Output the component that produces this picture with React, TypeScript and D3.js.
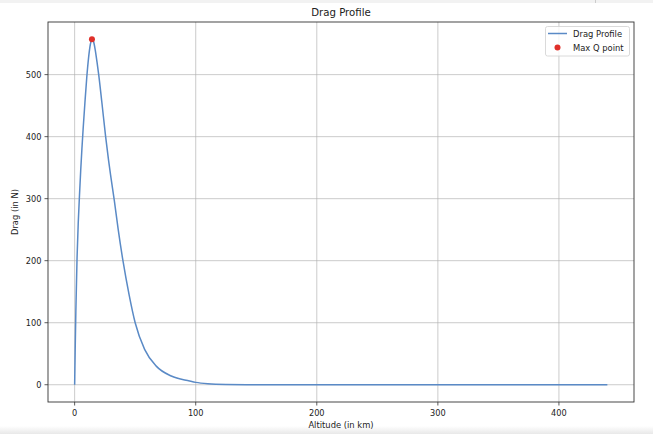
import React from "react";
import * as d3 from "d3";

const altitude = [0, 0.5, 1, 2, 3, 4, 5, 6, 7, 8.5, 10, 11.5, 13, 14.3, 15.5, 17, 18.5, 20, 22.5, 25.6, 28, 30, 32.7, 36, 39.9, 45, 50, 57.8, 67.4, 79.8, 95, 100, 110, 125, 150, 200, 300, 440];
const drag = [0, 62, 118, 205, 262, 305, 345, 380, 412, 455, 495, 527, 549, 557, 554, 540, 520, 498, 455, 400, 362, 334, 298, 250, 200, 145, 100, 57, 30, 14, 6, 3.8, 1.6, 0.5, 0.1, 0, 0, 0];
const maxQ = { alt: 14.3, drag: 557 };
const xTicks = [0, 100, 200, 300, 400];
const yTicks = [0, 100, 200, 300, 400, 500];

const W = 653, H = 434;
const L = 48, R = 634, T = 22, B = 402;

export default function App() {
  const x = d3.scaleLinear().domain([-22, 462]).range([L, R]);
  const y = d3.scaleLinear().domain([-27.85, 584.85]).range([B, T]);
  const pts: [number, number][] = altitude.map((a, i) => [a, drag[i]]);
  const line = d3.line<[number, number]>().x(d => x(d[0])).y(d => y(d[1])).curve(d3.curveMonotoneX);
  const font = "DejaVu Sans, sans-serif";
  const grid = "#b0b0b0";
  const lineColor = "#5a8ac6";
  const tickFs = 8.2;
  const labFs = 8.4;
  return (
    <svg width={W} height={H} style={{ position: "absolute", left: 0, top: 0 }} fontFamily={font}>
      <defs>
        <linearGradient id="bot" x1="0" y1="0" x2="0" y2="1">
          <stop offset="0" stopColor="#ffffff" />
          <stop offset="1" stopColor="#e8e8e8" />
        </linearGradient>
      </defs>
      <rect x={0} y={0} width={W} height={H} fill="#fff" />
      <rect x={0} y={0} width={W} height={3} fill="#f2f2f2" />
      <line x1={595.5} x2={595.5} y1={0} y2={3} stroke="#ccc" />
      <rect x={0} y={426} width={W} height={8} fill="url(#bot)" />
      {xTicks.map(t => (
        <line key={"gx" + t} x1={x(t)} x2={x(t)} y1={T} y2={B} stroke={grid} strokeWidth={0.8} opacity={0.8} />
      ))}
      {yTicks.map(t => (
        <line key={"gy" + t} x1={L} x2={R} y1={y(t)} y2={y(t)} stroke={grid} strokeWidth={0.8} opacity={0.8} />
      ))}
      <path d={line(pts) || ""} fill="none" stroke={lineColor} strokeWidth={1.5} />
      <circle cx={x(maxQ.alt)} cy={y(maxQ.drag)} r={3} fill="#e0302a" />
      <rect x={L} y={T} width={R - L} height={B - T} fill="none" stroke="#333" strokeWidth={0.9} />
      {xTicks.map(t => (
        <g key={"xt" + t}>
          <line x1={x(t)} x2={x(t)} y1={B} y2={B + 3.5} stroke="#333" strokeWidth={0.8} />
          <text x={x(t)} y={B + 13.5} fontSize={tickFs} textAnchor="middle" fill="#222">{t}</text>
        </g>
      ))}
      {yTicks.map(t => (
        <g key={"yt" + t}>
          <line x1={L - 3.5} x2={L} y1={y(t)} y2={y(t)} stroke="#333" strokeWidth={0.8} />
          <text x={L - 6.5} y={y(t) + 3} fontSize={tickFs} textAnchor="end" fill="#222">{t}</text>
        </g>
      ))}
      <text x={(L + R) / 2} y={15.5} fontSize={10.2} textAnchor="middle" fill="#222">Drag Profile</text>
      <text x={(L + R) / 2} y={428} fontSize={labFs} textAnchor="middle" fill="#222">Altitude (in km)</text>
      <text transform={`translate(18,${(T + B) / 2}) rotate(-90)`} fontSize={labFs} textAnchor="middle" fill="#222">Drag (in N)</text>
      <rect x={545.5} y={26.5} width={84} height={29.5} rx={2} fill="#fff" fillOpacity={0.8} stroke="#d0d0d0" strokeWidth={0.8} />
      <line x1={548} x2={567} y1={33.5} y2={33.5} stroke={lineColor} strokeWidth={1.5} />
      <text x={573} y={36.5} fontSize={labFs} fill="#222">Drag Profile</text>
      <circle cx={557.5} cy={47.5} r={3} fill="#e0302a" />
      <text x={573} y={50.5} fontSize={labFs} fill="#222">Max Q point</text>
    </svg>
  );
}
